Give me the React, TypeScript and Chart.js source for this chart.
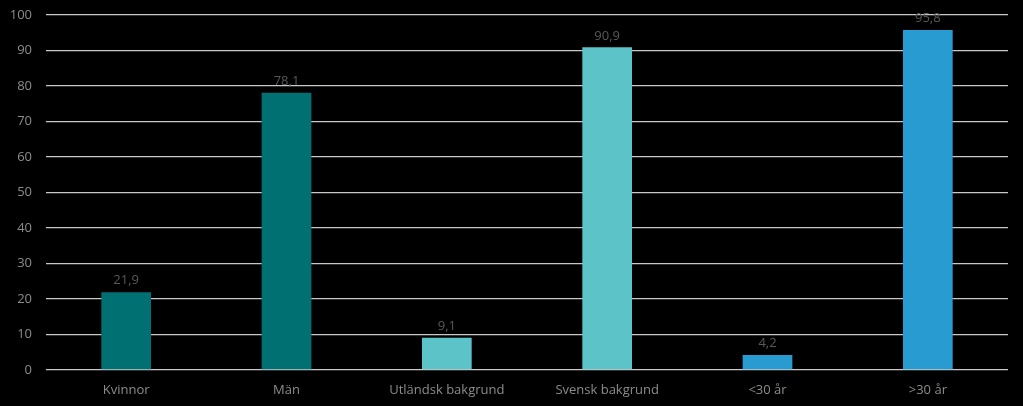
import React, { useEffect, useRef } from "react";
import { Chart, registerables, Plugin } from "chart.js";

Chart.register(...registerables);

const categories = ["Kvinnor", "Män", "Utländsk bakgrund", "Svensk bakgrund", "<30 år", ">30 år"];
const values = [21.9, 78.1, 9.1, 90.9, 4.2, 95.8];
const barColors = ["#017072", "#017072", "#5cc3c9", "#5cc3c9", "#289cd1", "#289cd1"];
const yTicks = [0, 10, 20, 30, 40, 50, 60, 70, 80, 90, 100];

const FONT = "'Open Sans', 'Noto Sans', sans-serif";

const valueLabels: Plugin<"bar"> = {
  id: "valueLabels",
  afterDatasetsDraw(chart) {
    const ctx = chart.ctx;
    const meta = chart.getDatasetMeta(0);
    ctx.save();
    ctx.font = `13px ${FONT}`;
    ctx.fillStyle = "#595959";
    ctx.textAlign = "center";
    ctx.textBaseline = "bottom";
    meta.data.forEach((bar, i) => {
      const txt = values[i].toFixed(1).replace(".", ",");
      ctx.fillText(txt, bar.x, bar.y - 5);
    });
    ctx.restore();
  },
};

const App: React.FC = () => {
  const chartRef = useRef<HTMLCanvasElement | null>(null);
  const chartInstance = useRef<Chart | null>(null);

  useEffect(() => {
    document.body.style.margin = "0";
    document.body.style.background = "#000000";
    if (!chartRef.current) return;
    const ctx = chartRef.current.getContext("2d");
    if (!ctx) return;
    if (chartInstance.current) chartInstance.current.destroy();

    chartInstance.current = new Chart(ctx, {
      type: "bar",
      data: {
        labels: categories,
        datasets: [
          {
            data: values,
            backgroundColor: barColors,
            barPercentage: 0.62,
            categoryPercentage: 0.5,
          },
        ],
      },
      options: {
        responsive: false,
        animation: false,
        layout: { padding: { top: 15, right: 15, left: 0, bottom: 0 } },
        plugins: {
          legend: { display: false },
          tooltip: { enabled: false },
        },
        scales: {
          x: {
            grid: { display: false, drawTicks: false },
            border: { display: false },
            ticks: {
              color: "#8c8c8c",
              font: { family: FONT, size: 13 },
              padding: 12,
              maxRotation: 0,
              autoSkip: false,
            },
            afterFit: (s: any) => {
              s.height = 36;
              s.paddingLeft = 0;
              s.paddingRight = 0;
            },
          },
          y: {
            min: 0,
            max: 100,
            afterBuildTicks: (s: any) => {
              s.ticks = yTicks.map((v) => ({ value: v }));
            },
            grid: { color: "#c8c8c8", lineWidth: 1.3, drawTicks: false },
            border: { display: false },
            ticks: {
              color: "#8c8c8c",
              font: { family: FONT, size: 13 },
              padding: 14,
            },
            afterFit: (s: any) => {
              s.width = 46;
              s.paddingTop = 0;
              s.paddingBottom = 0;
            },
          },
        },
      },
      plugins: [valueLabels],
    });

    return () => {
      if (chartInstance.current) {
        chartInstance.current.destroy();
        chartInstance.current = null;
      }
    };
  }, []);

  return (
    <div style={{ width: 1023, height: 406, background: "#000000" }}>
      <canvas ref={chartRef} width={1023} height={406}></canvas>
    </div>
  );
};

export default App;
